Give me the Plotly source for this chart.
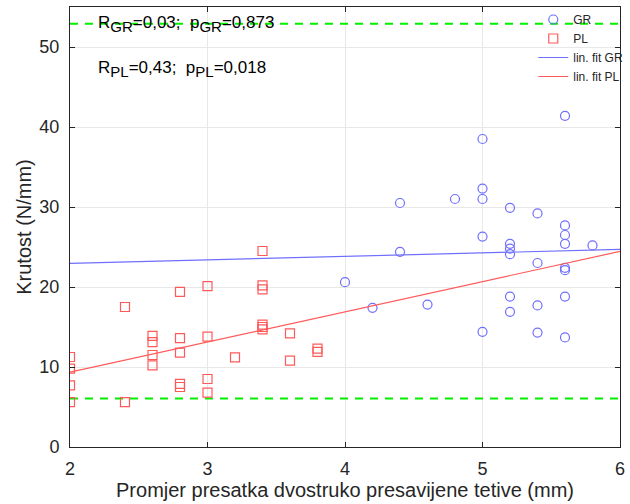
import plotly.graph_objects as go

# PL group (squares)
pl_x = [2.0, 2.0, 2.0, 2.0, 2.4, 2.4, 2.6, 2.6, 2.6, 2.6,
        2.8, 2.8, 2.8, 2.8, 2.8, 3.0, 3.0, 3.0, 3.0, 3.2,
        3.4, 3.4, 3.4, 3.4, 3.4, 3.4, 3.6, 3.6, 3.8, 3.8]
pl_y = [11.25, 9.8, 7.7, 5.6, 17.5, 5.6, 13.9, 13.1, 11.5, 10.2,
        19.4, 13.6, 11.8, 7.9, 7.5, 20.1, 13.8, 8.5, 6.8, 11.2,
        24.5, 20.2, 19.7, 15.3, 15.0, 14.7, 14.2, 10.8, 12.3, 11.9]

# GR group (circles)
gr_x = [4.0, 4.2, 4.4, 4.4, 4.6, 4.8, 5.0, 5.0, 5.0, 5.0,
        5.0, 5.2, 5.2, 5.2, 5.2, 5.2, 5.2, 5.4, 5.4, 5.4,
        5.4, 5.6, 5.6, 5.6, 5.6, 5.6, 5.6, 5.6, 5.6, 5.8]
gr_y = [20.6, 17.4, 30.5, 24.4, 17.8, 31.0, 38.5, 32.3, 31.0, 26.3,
        14.4, 29.9, 25.4, 24.8, 24.1, 18.8, 16.9, 29.2, 23.0, 17.7,
        14.3, 41.4, 27.7, 26.5, 25.4, 22.4, 22.1, 18.8, 13.7, 25.2]

# linear fits (end points)
fit_x = [2, 6]
fit_gr_y = [22.95, 24.7]
fit_pl_y = [9.35, 24.45]

# limit lines
limit_x = [2, 6]
limit_hi = 52.9
limit_lo = 6.05

blue = "rgb(110,110,255)"
red = "rgb(255,90,90)"
green = "rgb(0,240,0)"
txt = "#262626"
font = "Liberation Sans, Arial, sans-serif"

fig = go.Figure()
fig.add_trace(go.Scatter(x=limit_x, y=[limit_hi] * 2, mode="lines", showlegend=False,
                         line=dict(color=green, width=2, dash="8px,7px"), hoverinfo="skip"))
fig.add_trace(go.Scatter(x=limit_x, y=[limit_lo] * 2, mode="lines", showlegend=False,
                         line=dict(color=green, width=2, dash="8px,7px"), hoverinfo="skip"))
fig.add_trace(go.Scatter(x=gr_x, y=gr_y, mode="markers", name="GR",
                         marker=dict(symbol="circle-open", size=9, color=blue, line=dict(width=1.2, color=blue))))
fig.add_trace(go.Scatter(x=pl_x, y=pl_y, mode="markers", name="PL",
                         marker=dict(symbol="square-open", size=9, color=red, line=dict(width=1.2, color=red))))
fig.add_trace(go.Scatter(x=fit_x, y=fit_gr_y, mode="lines", name="lin. fit GR",
                         line=dict(color=blue, width=1.2)))
fig.add_trace(go.Scatter(x=fit_x, y=fit_pl_y, mode="lines", name="lin. fit PL",
                         line=dict(color=red, width=1.2)))

sub = '<sub><span style="font-size:15px">{}</span></sub>'
fig.add_annotation(x=2.19, y=52.9, xref="x", yref="y", xanchor="left", yanchor="middle",
                   text="R" + sub.format("GR") + "=0,03;  p" + sub.format("GR") + "=0,873",
                   showarrow=False, font=dict(size=17, color="black", family=font))
fig.add_annotation(x=2.19, y=47.2, xref="x", yref="y", xanchor="left", yanchor="middle",
                   text="R" + sub.format("PL") + "=0,43;  p" + sub.format("PL") + "=0,018",
                   showarrow=False, font=dict(size=17, color="black", family=font))

axis_common = dict(showline=True, linecolor=txt, linewidth=1, mirror="ticks",
                   ticks="inside", ticklen=5, tickcolor=txt, showgrid=True,
                   gridcolor="rgb(232,232,232)", zeroline=False, automargin=False,
                   tickfont=dict(size=18, color=txt, family=font))

fig.update_layout(
    width=630, height=504,
    margin=dict(l=70, r=2, t=7, b=57),
    paper_bgcolor="white", plot_bgcolor="white",
    font=dict(family=font, color=txt),
    xaxis=dict(range=[2, 6], dtick=1, ticklabelstandoff=5,
               title=dict(text="Promjer presatka dvostruko presavijene tetive (mm)",
                          font=dict(size=20, color=txt), standoff=0), **axis_common),
    yaxis=dict(range=[0, 55], dtick=10, ticklabelstandoff=6,
               title=dict(text="Krutost (N/mm)", font=dict(size=20, color=txt),
                          standoff=2), **axis_common),
    legend=dict(x=(540 - 70) / 558, y=(447 - 5) / 440, xanchor="left", yanchor="top",
                bgcolor="rgba(255,255,255,0)", font=dict(size=12, color=txt, family=font),
                tracegroupgap=0, itemwidth=30),
    showlegend=True,
)

fig.write_html("out.html", config={"displayModeBar": False},
               post_script="document.body.style.margin='0';")
